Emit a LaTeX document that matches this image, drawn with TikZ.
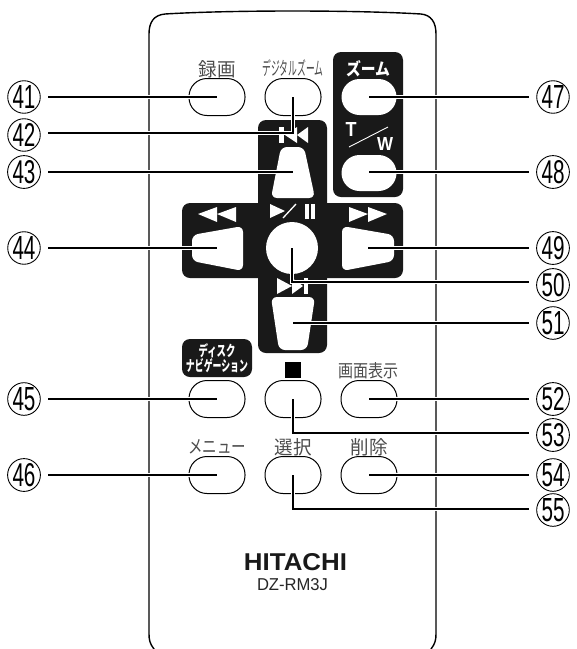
\documentclass[tikz,border=0pt]{standalone}
\usepackage{graphicx}
\usepackage{fontspec}
\setmainfont{Liberation Sans}
\newfontfamily\jpf{Noto Sans CJK JP}
\usetikzlibrary{calc}
\newcommand{\fit}[3]{\resizebox{#1pt}{#2pt}{#3}}
\tikzset{
  btn/.style={draw=black,line width=1pt,fill=white,rounded corners=18pt,minimum width=56pt,minimum height=37pt,inner sep=0pt,outer sep=0pt},
  wbtn/.style={fill=white,rounded corners=18pt,minimum width=55pt,minimum height=36pt,inner sep=0pt,outer sep=0pt},
  conn/.style={draw=black,line width=1.4pt,preaction={draw=white,line width=4.2pt}},
  num/.style={circle,draw=black,line width=0.9pt,minimum size=30pt,inner sep=0pt,outer sep=8pt},
  panel/.style={fill=black!90,rounded corners=8pt},
  wicon/.style={fill=white,draw=none},
  jl/.style={inner sep=0pt,text=black!70}
}
\begin{document}
\begin{tikzpicture}[x=1pt,y=-1pt]
\useasboundingbox (0,0) rectangle (577,649);
\clip (0,0) rectangle (577,649);
% body
\draw[line width=1.4pt,line cap=round]
  (154,649) .. controls (150,644) and (149,640) .. (149,634)
  -- (149,34) .. controls (149,22) and (154,15) .. (165,14)
  .. controls (230,10) and (355,10) .. (421,14)
  .. controls (431,15) and (436,22) .. (436,34)
  -- (436,634) .. controls (436,640) and (435,644) .. (431,649);
% panels
\fill[panel] (333,52) rectangle (403,197);
\fill[panel] (258,120) rectangle (327,353);
\fill[panel] (182,203) rectangle (403,278);
\fill[panel] (182,339) rectangle (252,377);
% plain buttons
\node[btn] (b41) at (217,97) {};
\node[btn] (b42) at (293,97) {};
\node[btn] (b45) at (217,399) {};
\node[btn] (b53) at (293,399) {};
\node[btn] (b52) at (369,399) {};
\node[btn] (b46) at (217,475) {};
\node[btn] (b55) at (293,475) {};
\node[btn] (b54) at (369,475) {};
% white buttons on panels
\node[wbtn] (b47) at (369,97) {};
\node[wbtn] (b48) at (369,173) {};
\node[circle,fill=white,minimum size=52pt,inner sep=0pt,outer sep=0pt] (b50) at (292,248) {};
\fill[white,rounded corners=6pt] (281,147) -- (304,147) -- (315,198) -- (271,198) -- cycle;
\fill[white,rounded corners=6pt] (192,235) -- (243,226) -- (243,271) -- (192,261) -- cycle;
\fill[white,rounded corners=6pt] (394,235) -- (342,226) -- (342,271) -- (394,261) -- cycle;
\fill[white,rounded corners=6pt] (271,297) -- (315,297) -- (307,350) -- (279,350) -- cycle;
\coordinate (b43) at (293,172);
\coordinate (b44) at (217,248);
\coordinate (b49) at (368,248);
\coordinate (b51) at (293,323);
% icons
\fill[wicon] (279,127) rectangle (284,143);
\fill[wicon] (285,135) -- (297,127) -- (297,143) -- cycle;
\fill[wicon] (297,135) -- (308,127) -- (308,143) -- cycle;
\fill[wicon] (198,214) -- (217,207) -- (217,222) -- cycle;
\fill[wicon] (217,214) -- (236,207) -- (236,222) -- cycle;
\fill[wicon] (349,207) -- (368,214) -- (349,222) -- cycle;
\fill[wicon] (368,207) -- (387,214) -- (368,222) -- cycle;
\fill[wicon] (270,204) -- (285,211) -- (270,218) -- cycle;
\draw[white,line width=1.3pt] (283,218) -- (296,204);
\fill[wicon] (305,204) rectangle (309,219);
\fill[wicon] (311,204) rectangle (315,219);
\fill[wicon] (277,278) -- (292,286) -- (277,294) -- cycle;
\fill[wicon] (292,278) -- (303,286) -- (292,294) -- cycle;
\fill[wicon] (304,278) rectangle (308,294);
\fill[black] (285,362) rectangle (301,378);
\draw[white,line width=0.9pt] (349,147) -- (388,127);
% texts
\node[jl] (t41) at (217,69) {\fit{37}{16}{\jpf 録画}};
\node[jl] (t42) at (293,68) {\fit{61}{16}{\jpf デジタルズーム}};
\node[jl] (t52) at (368,371) {\fit{60}{15}{\jpf 画面表示}};
\node[jl] (t46) at (217,447) {\fit{58}{14}{\jpf メニュー}};
\node[jl] (t55) at (293,447) {\fit{37}{16}{\jpf 選択}};
\node[jl] (t54) at (369,447) {\fit{37}{16}{\jpf 削除}};
\node[inner sep=0pt,text=white] (t47) at (368,69) {\fit{44}{15}{\jpf\bfseries ズーム}};
\node[inner sep=0pt,text=white] (t45a) at (217,351) {\fit{37}{13}{\jpf\bfseries ディスク}};
\node[inner sep=0pt,text=white] (t45b) at (217,366) {\fit{62}{13}{\jpf\bfseries ナビゲーション}};
\node[inner sep=0pt,text=white] (tT) at (351,129) {\fit{11}{14}{\bfseries T}};
\node[inner sep=0pt,text=white] (tW) at (385,144) {\fit{16}{13}{\bfseries W}};
\node[inner sep=0pt,text=black!90] (th) at (295.5,562) {\fit{103}{17}{\bfseries HITACHI}};
\node[inner sep=0pt,text=black!85] (tm) at (292.5,585) {\fit{71}{12}{DZ-RM3J}};
% number labels
\foreach \n/\y in {41/97,42/135,43/172,44/248,45/399,46/475}
  \node[num] (l\n) at (24,\y) {\fit{23}{23}{\n}};
\foreach \n/\y in {47/97,48/172,49/248,50/285,51/323,52/399,53/435,54/475,55/510}
  \node[num] (l\n) at (553,\y) {\fit{23}{23}{\n}};
% connectors
\draw[conn] (l41.east) -- (b41.center);
\draw[conn] ([yshift=2pt]l42.east) -| (b42.center);
\draw[conn] (l43.east) -- (b43);
\draw[conn] (l44.east) -- (b44);
\draw[conn] (l45.east) -- (b45.center);
\draw[conn] (l46.east) -- (b46.center);
\draw[conn] (l47.west) -- (b47.center);
\draw[conn] (l48.west) -- ([yshift=1pt]b48.center);
\draw[conn] (l49.west) -- (b49);
\draw[conn] ([yshift=3pt]l50.west) -| (b50.center);
\draw[conn] (l51.west) -- (b51);
\draw[conn] (l52.west) -- (b52.center);
\draw[conn] ([yshift=2pt]l53.west) -| (b53.center);
\draw[conn] (l54.west) -- (b54.center);
\draw[conn] ([yshift=1pt]l55.west) -| (b55.center);
\end{tikzpicture}
\end{document}
